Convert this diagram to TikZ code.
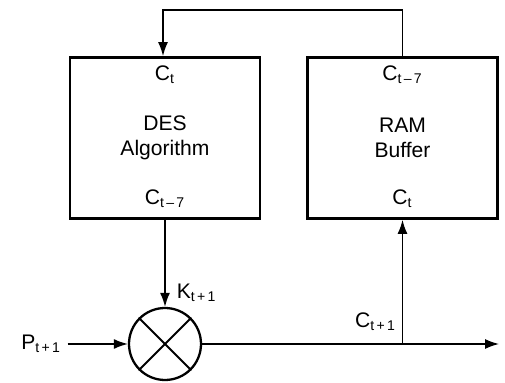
\documentclass[tikz,border=0pt]{standalone}
\usepackage{fontspec}
\setmainfont{Liberation Sans}
\usetikzlibrary{positioning,arrows.meta,calc}
\tikzset{
  block/.style={draw,line width=1.6pt,minimum width=3.8cm,minimum height=3.22cm,align=center},
  port/.style={inner sep=1pt}
}
\newcommand{\idx}[1]{\textsubscript{#1}}

\begin{document}
\begin{tikzpicture}[>={Latex[length=2.8mm,width=2mm]},line width=0.8pt,font=\large]
  \useasboundingbox (0,0) rectangle (10.1,-7.66);
  \node[block] (des) at (3.3,-2.76) {DES\\Algorithm};
  \node[block] (ram) at (8.05,-2.76) {RAM\\Buffer};
  \node[port] (desin) at ($(des.north)+(0,-0.38)$) {C\idx{t}};
  \node[port] (desout) at ($(des.south)+(0,0.42)$) {C\idx{t\,–\,7}};
  \node[port] (ramout) at ($(ram.north)+(0,-0.38)$) {C\idx{t\,–\,7}};
  \node[port] (ramin) at ($(ram.south)+(0,0.42)$) {C\idx{t}};
  \node[draw,circle,line width=1.3pt,minimum size=1.44cm] (xor) at (3.3,-6.88) {};
  \draw[line width=1.1pt] (xor.45) -- (xor.225) (xor.135) -- (xor.315);
  \node[anchor=east] (p) at (1.35,-6.88) {P\idx{t\,+\,1}};
  \coordinate (fb) at (3.26,-0.2);
  \coordinate (tap) at (ram.south |- xor.east);
  \coordinate (out) at (9.98,-6.88);
  % feedback from the buffer
  \draw[->] (ram.north) |- (fb) -- (fb |- des.north);
  \draw[->] (des.south) -- (xor.north) node[pos=0.84,right,xshift=3pt] {K\idx{t\,+\,1}};
  \draw[->] (p) -- (xor.west);
  \draw[->] (xor.east) -- (out);
  \draw[->] (tap) -- (ram.south) node[pos=0,above left,yshift=4pt] {C\idx{t\,+\,1}};
\end{tikzpicture}
\end{document}
